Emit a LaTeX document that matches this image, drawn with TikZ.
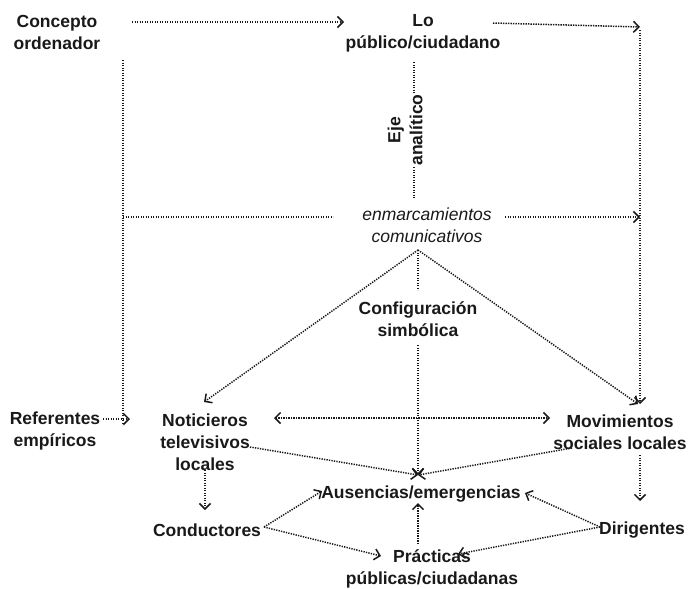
\documentclass[tikz,border=0pt]{standalone}
\usepackage{fontspec}
\setmainfont{Liberation Sans}
\usetikzlibrary{arrows.meta}
\begin{document}
\begin{tikzpicture}[x=1pt,y=-1pt,
  lbl/.style={font=\fontsize{17.5}{22}\selectfont\bfseries, align=center, inner sep=1pt, text=black!90},
  ital/.style={font=\fontsize{17.5}{22}\selectfont\itshape, align=center, inner sep=1pt, text=black!90},
  dl/.style={line width=1.5pt, dash pattern=on 1.3pt off 1.2pt, black!90},
  arr/.style={dl, -{Straight Barb[length=5.5pt,width=11pt,line width=1.5pt]}},
  darr/.style={dl, {Straight Barb[length=5.5pt,width=11pt,line width=1.5pt]}-{Straight Barb[length=5.5pt,width=11pt,line width=1.5pt]}}]
\useasboundingbox (0,0) rectangle (691,589);

% nodes
\node[lbl] (concepto) at (57,32) {Concepto\\ordenador};
\node[lbl] (lo) at (423,33) {Lo\\público/ciudadano};
\node[ital] (enm) at (427,225) {enmarcamientos\\comunicativos};
\node[lbl] (config) at (418,319) {Configuración\\simbólica};
\node[lbl] (ref) at (55,431) {Referentes\\empíricos};
\node[lbl] (not) at (205,442) {Noticieros\\televisivos\\locales};
\node[lbl] (mov) at (620,432) {Movimientos\\sociales locales};
\node[lbl] (aus) at (421,494) {Ausencias/emergencias};
\node[lbl] (cond) at (207,530) {Conductores};
\node[lbl] (dir) at (642,530) {Dirigentes};
\node[lbl] (prac) at (432,569) {Prácticas\\públicas/ciudadanas};

% named free ends
\coordinate (t1) at (132,22);
\coordinate (t2) at (344,22);
\coordinate (l1) at (493,23);
\coordinate (r0) at (640,27);
\coordinate (r1) at (640,30);
\coordinate (rm) at (640,404);
\coordinate (v1) at (123,60);
\coordinate (v2) at (123,425);
\coordinate (h1) at (123,217);
\coordinate (h2) at (333,217);
\coordinate (h3) at (505,217);
\coordinate (h4) at (640,217);
\coordinate (e1) at (414,62);
\coordinate (e2) at (414,198);
\coordinate (apex) at (418,250);
\coordinate (c1) at (418,290);
\coordinate (c2) at (418,345);
\coordinate (ain) at (418,475);
\coordinate (nt) at (204,402);
\coordinate (mt) at (638,404);
\coordinate (ra) at (103,419);
\coordinate (rb) at (130,419);
\coordinate (d1) at (274,418);
\coordinate (d2) at (550,418);
\coordinate (ns) at (250,447);
\coordinate (ms) at (572,448);
\coordinate (nd1) at (205,470);
\coordinate (nd2) at (205,510);
\coordinate (md1) at (640,455);
\coordinate (md2) at (640,501);
\coordinate (co) at (264,527);
\coordinate (aw) at (322,491);
\coordinate (ae) at (525,493);
\coordinate (pw) at (381,556);
\coordinate (pe) at (458,554);
\coordinate (di) at (600,527);
\coordinate (pu1) at (418,544);
\coordinate (pu2) at (418,503);

% top row
\draw[arr] (t1) -- (t2);
\draw[arr] (l1) -- (r0);
\draw[arr] (r1) -- (rm);
% left vertical
\draw[dl] (v1) -- (v2);
% eje analitico line
\draw[dl] (e1) -- (e2);
\node[lbl, rotate=90, fill=white, inner sep=2pt] (eje) at (405,130) {Eje\\analítico};
% enmarcamientos horizontal
\draw[dl] (h1) -- (h2);
\draw[arr] (h3) -- (h4);
% from enmarcamientos
\draw[arr] (apex) -- (nt);
\draw[arr] (apex) -- (mt);
\draw[dl] (apex) -- (c1);
\draw[arr] (c2) -- (ain);
% referentes
\draw[arr] (ra) -- (rb);
% double arrow
\draw[darr] (d1) -- (d2);
% into ausencias
\draw[arr] (ns) -- (ain);
\draw[arr] (ms) -- (ain);
% downs
\draw[arr] (nd1) -- (nd2);
\draw[arr] (md1) -- (md2);
% conductores / dirigentes
\draw[arr] (co) -- (aw);
\draw[arr] (co) -- (pw);
\draw[arr] (di) -- (ae);
\draw[arr] (di) -- (pe);
\draw[arr] (pu1) -- (pu2);
\end{tikzpicture}
\end{document}
